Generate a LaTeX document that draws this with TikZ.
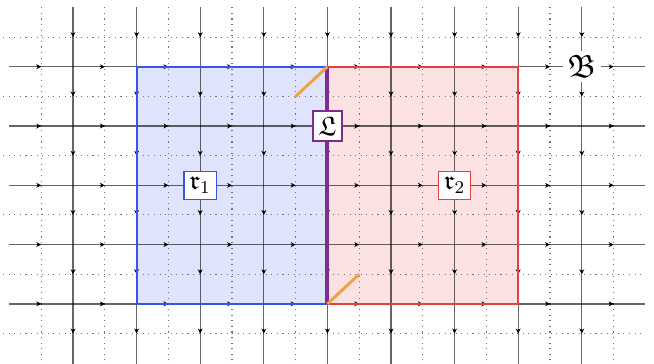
\documentclass[tikz,border=0pt]{standalone}
\usepackage{amssymb}
\usetikzlibrary{arrows.meta}
\definecolor{lblue}{RGB}{55,85,235}
\definecolor{lred}{RGB}{230,65,65}
\definecolor{lpurple}{RGB}{125,45,140}
\definecolor{lorange}{RGB}{240,160,70}

\begin{document}
\begin{tikzpicture}[x=1cm,y=0.932cm,>={Stealth[length=2.2pt,width=2.2pt]},
  edge/.style={black,opacity=0.6,line width=0.6pt},
  halfline/.style={black!55,dotted,line width=0.5pt},
  tick/.style={->,black,line width=0.4pt},
  regionlabel/.style={fill=white,semithick,inner sep=2.5pt,font=\large}]
  \useasboundingbox (-1.148,-1.012) rectangle (9.135,5.126);
  % the two regions
  \fill[lblue!16] (1,0) rectangle (4,4);
  \fill[lred!16] (4,0) rectangle (7,4);

  % dual lattice
  \foreach \i in {-0.5,0.5,...,8.5}
    \draw[halfline] (\i,-1.05) -- (\i,5);
  \foreach \j in {-0.5,0.5,...,4.5}
    \draw[halfline] (-1.1,\j) -- (8.95,\j);

  % lattice edges with orientation
  \foreach \i in {0,...,8}
    \draw[edge] (\i,-1.05) -- (\i,5);
  \foreach \j in {0,...,4}
    \draw[edge] (-1,\j) -- (9,\j);
  \foreach \i in {0,...,8}
    \foreach \j in {-0.5,0.5,...,4.5}
      \draw[tick] (\i,\j+0.07) -- (\i,\j);
  \foreach \j in {0,...,4}
    \foreach \i in {-0.5,0.5,...,8.5}
      \draw[tick] (\i-0.07,\j) -- (\i,\j);

  \draw[lblue,thick] (1,0) rectangle (4,4);
  \draw[lred,thick] (4,0) rectangle (7,4);
  \draw[lpurple,line width=1.8pt] (4,0) -- (4,4);
  \draw[lorange,line width=1.3pt] (3.5,3.5) -- (4,4);
  \draw[lorange,line width=1.3pt] (4,0) -- (4.5,0.5);

  \node[regionlabel,draw=lblue] (r1) at (2,2) {$\mathfrak{r}_1$};
  \node[regionlabel,draw=lred] (r2) at (6,2) {$\mathfrak{r}_2$};
  \node[regionlabel,draw=lpurple] (L) at (4,3) {$\mathfrak{L}$};
  \node[fill=white,inner sep=2pt,font=\Large] (B) at (8,4) {$\mathfrak{B}$};
\end{tikzpicture}
\end{document}
